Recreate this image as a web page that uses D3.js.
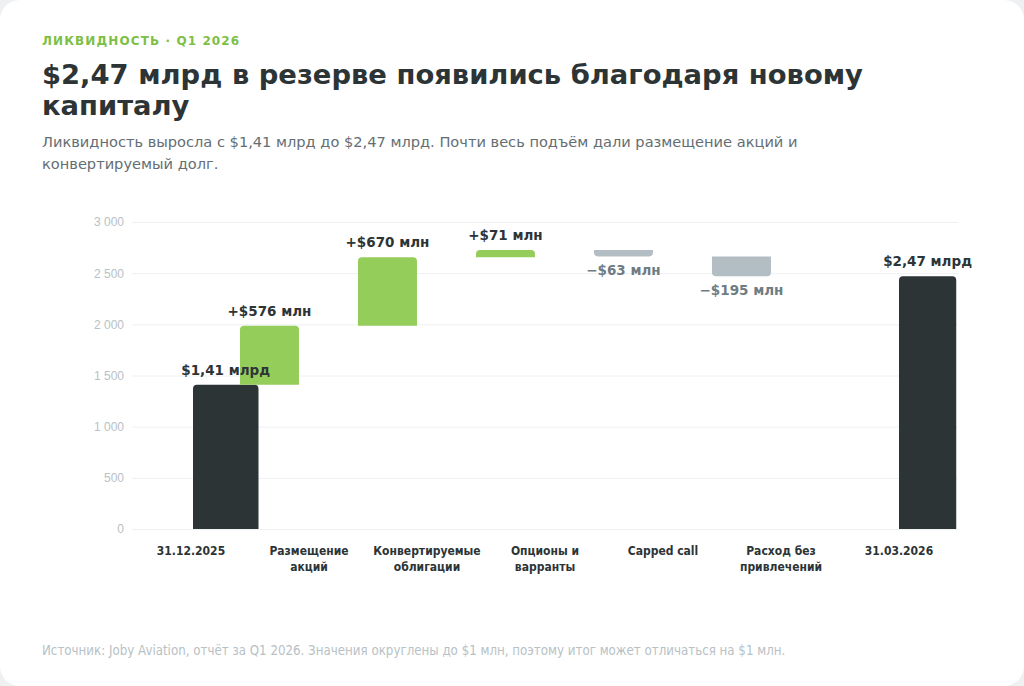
<!DOCTYPE html>
<html lang="ru">
<head>
<meta charset="UTF-8">
<title>Ликвидность Q1 2026</title>
<script src="https://d3js.org/d3.v7.min.js"></script>
<style>
    html, body { margin: 0; padding: 0; background: #eef0f1; }
    #card {
        width: 1024px; height: 686px; background: #fff;
        border-radius: 20px; overflow: hidden; position: relative;
    }
    svg { display: block; font-family: "DejaVu Sans", sans-serif; }
    .eyebrow { fill: #7dbf45; font-size: 12px; font-weight: bold; letter-spacing: 1.1px; }
    .title { fill: #2d3436; font-size: 27.4px; font-weight: bold; }
    .subtitle { fill: #636e72; font-size: 14.6px; }
    .tick text { fill: #b8c1c5; font-size: 12px; }
    .grid line { stroke: #eef0f1; }
    .cat { fill: #2d3436; font-family: "DejaVu Sans Condensed", sans-serif; font-weight: bold; font-size: 12px; }
    .vlabel { font-size: 13.5px; font-weight: bold; }
    .source { fill: #b8c1c5; font-family: "DejaVu Sans Condensed", sans-serif; font-size: 13.2px; }
</style>
</head>
<body>
<div id="card"><svg id="chart" width="1024" height="686"></svg></div>
<script>
// data
var categories = ["31.12.2025", "Размещение акций", "Конвертируемые облигации", "Опционы и варранты", "Capped call", "Расход без привлечений", "31.03.2026"];
var categoryLines = [["31.12.2025"], ["Размещение", "акций"], ["Конвертируемые", "облигации"], ["Опционы и", "варранты"], ["Capped call"], ["Расход без", "привлечений"], ["31.03.2026"]];
var kinds = ["total", "up", "up", "up", "down", "down", "total"];
var values = [1410, 576, 670, 71, -63, -195, 2470];
var valueLabels = ["$1,41 млрд", "+$576 млн", "+$670 млн", "+$71 млн", "\u2212$63 млн", "\u2212$195 млн", "$2,47 млрд"];
var yTicks = [0, 500, 1000, 1500, 2000, 2500, 3000];

var colors = { total: "#2d3436", up: "#95cd5b", down: "#b2bec3" };

var svg = d3.select("#chart");

// header
svg.append("text").attr("class", "eyebrow").attr("x", 42).attr("y", 45).text("ЛИКВИДНОСТЬ · Q1 2026");
var title = svg.append("text").attr("class", "title").attr("x", 42).attr("y", 84);
title.append("tspan").attr("x", 42).text("$2,47 млрд в резерве появились благодаря новому");
title.append("tspan").attr("x", 42).attr("dy", 31).text("капиталу");
var sub = svg.append("text").attr("class", "subtitle").attr("x", 42).attr("y", 147);
sub.append("tspan").attr("x", 42).text("Ликвидность выросла с $1,41 млрд до $2,47 млрд. Почти весь подъём дали размещение акций и");
sub.append("tspan").attr("x", 42).attr("dy", 22).text("конвертируемый долг.");

// footer
svg.append("text").attr("class", "source").attr("x", 42).attr("y", 655)
    .text("Источник: Joby Aviation, отчёт за Q1 2026. Значения округлены до $1 млн, поэтому итог может отличаться на $1 млн.");

// scales
var plot = { left: 132, right: 958, top: 222, bottom: 529 };

var x = d3.scaleBand()
    .domain(categories)
    .range([plot.left, plot.right]);

var y = d3.scaleLinear()
    .domain([0, 3000])
    .range([plot.bottom, plot.top]);

var locale = d3.formatLocale({ decimal: ",", thousands: "\u00a0", grouping: [3], currency: ["$", ""] });
var fmt = locale.format(",");

// grid + y axis
var yAxis = svg.append("g")
    .attr("class", "grid")
    .attr("transform", "translate(" + plot.left + ",0)")
    .call(d3.axisLeft(y).tickValues(yTicks).tickFormat(fmt)
        .tickSize(-(plot.right - plot.left)).tickPadding(8));
yAxis.select(".domain").remove();
yAxis.selectAll(".tick line").attr("stroke", function (d) { return d === 0 ? "#e3e7e9" : "#eef0f1"; });

// waterfall steps
var running = 0;
var steps = values.map(function (v, i) {
    var s;
    if (kinds[i] === "total") {
        s = { lo: 0, hi: v };
        running = v;
    } else {
        var start = running;
        running = running + v;
        s = { lo: Math.min(start, running), hi: Math.max(start, running) };
    }
    s.kind = kinds[i];
    s.cat = categories[i];
    s.label = valueLabels[i];
    s.i = i;
    return s;
});

var bw = x.bandwidth();
function barX(d) {
    if (d.kind !== "total") return x(d.cat) - bw * 0.085;
    if (d.i === 0) return x(d.cat) + bw / 2 + 2;
    return x(d.cat) + bw / 2;
}
function barW(d) {
    if (d.kind !== "total") return bw / 2;
    if (d.i === 0) return bw * 0.555;
    return bw * 0.485;
}

function roundedBar(x0, y0, w, h, r, top) {
    r = Math.min(r, h, w / 2);
    if (top) {
        return "M" + x0 + "," + (y0 + h) +
            "V" + (y0 + r) + "Q" + x0 + "," + y0 + " " + (x0 + r) + "," + y0 +
            "H" + (x0 + w - r) + "Q" + (x0 + w) + "," + y0 + " " + (x0 + w) + "," + (y0 + r) +
            "V" + (y0 + h) + "Z";
    }
    return "M" + x0 + "," + y0 +
        "H" + (x0 + w) + "V" + (y0 + h - r) +
        "Q" + (x0 + w) + "," + (y0 + h) + " " + (x0 + w - r) + "," + (y0 + h) +
        "H" + (x0 + r) + "Q" + x0 + "," + (y0 + h) + " " + x0 + "," + (y0 + h - r) + "Z";
}

svg.append("g").selectAll("path.bar")
    .data(steps)
    .enter().append("path")
    .attr("class", "bar")
    .attr("fill", function (d) { return colors[d.kind]; })
    .attr("d", function (d) {
        return roundedBar(barX(d), y(d.hi), barW(d), y(d.lo) - y(d.hi), 4, d.kind !== "down");
    });

// value labels
svg.append("g").selectAll("text.vlabel")
    .data(steps)
    .enter().append("text")
    .attr("class", "vlabel")
    .attr("text-anchor", "middle")
    .attr("x", function (d) { return barX(d) + barW(d) / 2; })
    .attr("y", function (d) { return d.kind === "down" ? y(d.lo) + 18.5 : y(d.hi) - 10; })
    .attr("fill", function (d) { return d.kind === "down" ? "#6f7c82" : "#2d3436"; })
    .text(function (d) { return d.label; });

// category labels
var cats = svg.append("g").selectAll("text.cat")
    .data(categories)
    .enter().append("text")
    .attr("class", "cat")
    .attr("text-anchor", "middle")
    .attr("y", 555);
cats.each(function (c, i) {
    var t = d3.select(this);
    categoryLines[i].forEach(function (line, j) {
        t.append("tspan")
            .attr("x", x(c) + bw / 2)
            .attr("dy", j === 0 ? 0 : 16)
            .text(line);
    });
});
</script>
</body>
</html>
